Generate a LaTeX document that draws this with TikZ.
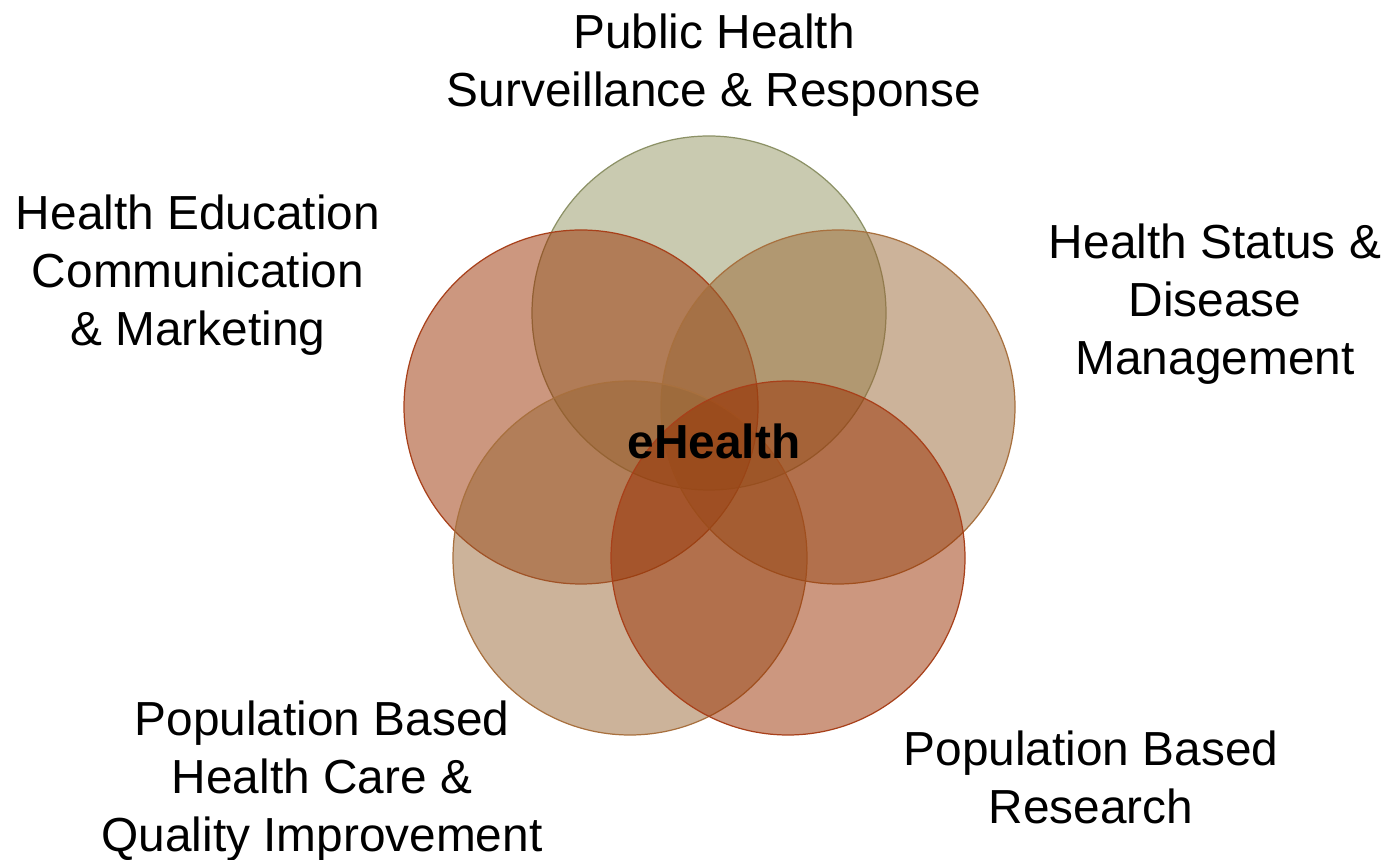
\documentclass[tikz,border=0pt]{standalone}
\usepackage{fontspec}
\setmainfont{Liberation Sans}
\usepackage{tikz}
\usetikzlibrary{backgrounds}

\definecolor{sagefill}{HTML}{939561}
\definecolor{sageline}{HTML}{8C9166}
\definecolor{rustfill}{HTML}{992F00}
\definecolor{rustline}{HTML}{A8401A}
\definecolor{tanfill}{HTML}{996735}
\definecolor{tanline}{HTML}{A8703E}

\tikzset{
  ring/.style={circle, inner sep=0pt, outer sep=0pt, minimum size=3.54cm, line width=0.35pt, fill opacity=0.5},
  label/.style={align=center, font=\fontsize{13.6}{16.5}\selectfont}
}

\begin{document}
\begin{tikzpicture}
\useasboundingbox (0,0) rectangle (13.88,8.60);

\node[ring, draw=sageline, fill=sagefill] (c1) at (7.09,5.47) {};
\node[ring, draw=rustline, fill=rustfill] (c2) at (5.81,4.53) {};
\node[ring, draw=tanline, fill=tanfill] (c3) at (8.38,4.53) {};
\node[ring, draw=tanline, fill=tanfill] (c4) at (6.30,3.02) {};
\node[ring, draw=rustline, fill=rustfill] (c5) at (7.88,3.02) {};

\node[label, font=\fontsize{13.6}{16.5}\selectfont\bfseries] (ehealth) at (7.14,4.19) {eHealth};

\node[label] (t1) at (7.14,7.95) {Public Health\\Surveillance \& Response};
\node[label] (t2) at (1.98,5.85) {Health Education\\Communication\\\& Marketing};
\node[label] (t3) at (12.15,5.56) {Health Status \&\\Disease\\Management};
\node[label] (t4) at (3.22,0.79) {Population Based\\Health Care \&\\Quality Improvement};
\node[label] (t5) at (10.91,0.83) {Population Based\\Research};
\end{tikzpicture}
\end{document}
